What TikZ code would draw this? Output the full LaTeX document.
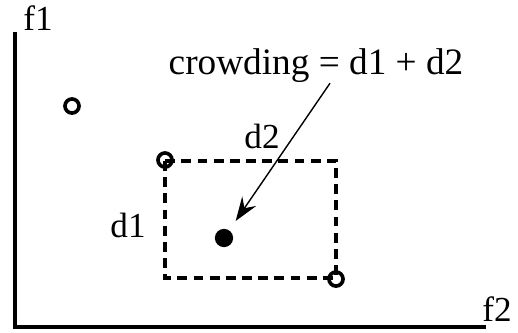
\documentclass[tikz,border=0pt]{standalone}
\usepackage{fontspec}
\setmainfont{Liberation Serif}
\usetikzlibrary{arrows.meta,calc}

\begin{document}
\begin{tikzpicture}[
    x=0.025cm, y=-0.025cm,
    axis/.style={line width=2.4pt},
    lbl/.style={inner sep=0pt, font=\fontsize{25}{30}\selectfont},
    pt/.style={circle, draw, line width=2.6pt, minimum size=10pt, inner sep=0pt},
    crowded/.style={circle, fill=black, minimum size=13pt, inner sep=0pt},
    box/.style={line width=2.8pt, dash pattern=on 7pt off 4.5pt},
    pointer/.style={-{Stealth[length=17pt, width=12pt, inset=6pt]}, line width=1pt, shorten >=8pt}
]
\useasboundingbox (0,0) rectangle (518,332);
% axes
\coordinate (origin) at (15,327);
\coordinate (ytop) at (15,32);
\coordinate (xend) at (486,327);
\draw[axis] (ytop) -- (origin) -- (xend);
\node[lbl] (f1) at (38,18) {f1};
\node[lbl] (f2) at (497,309) {f2};
% distance box
\draw[box] (165,161) rectangle (336,278);
\node[lbl] (d2) at (262,136) {d2};
\node[lbl] (d1) at (128,225) {d1};
% solutions
\node[pt] (a) at (72,106) {};
\node[pt] (b) at (165,160) {};
\node[pt] (c) at (336,279) {};
\node[crowded] (dot) at (224,238) {};
\node[lbl, font=\fontsize{26.5}{30}\selectfont] (crowd) at (316,66) {crowding = d1 + d2};
\draw[pointer] ($(crowd.south)+(14,0)$) -- (dot);
\end{tikzpicture}
\end{document}
